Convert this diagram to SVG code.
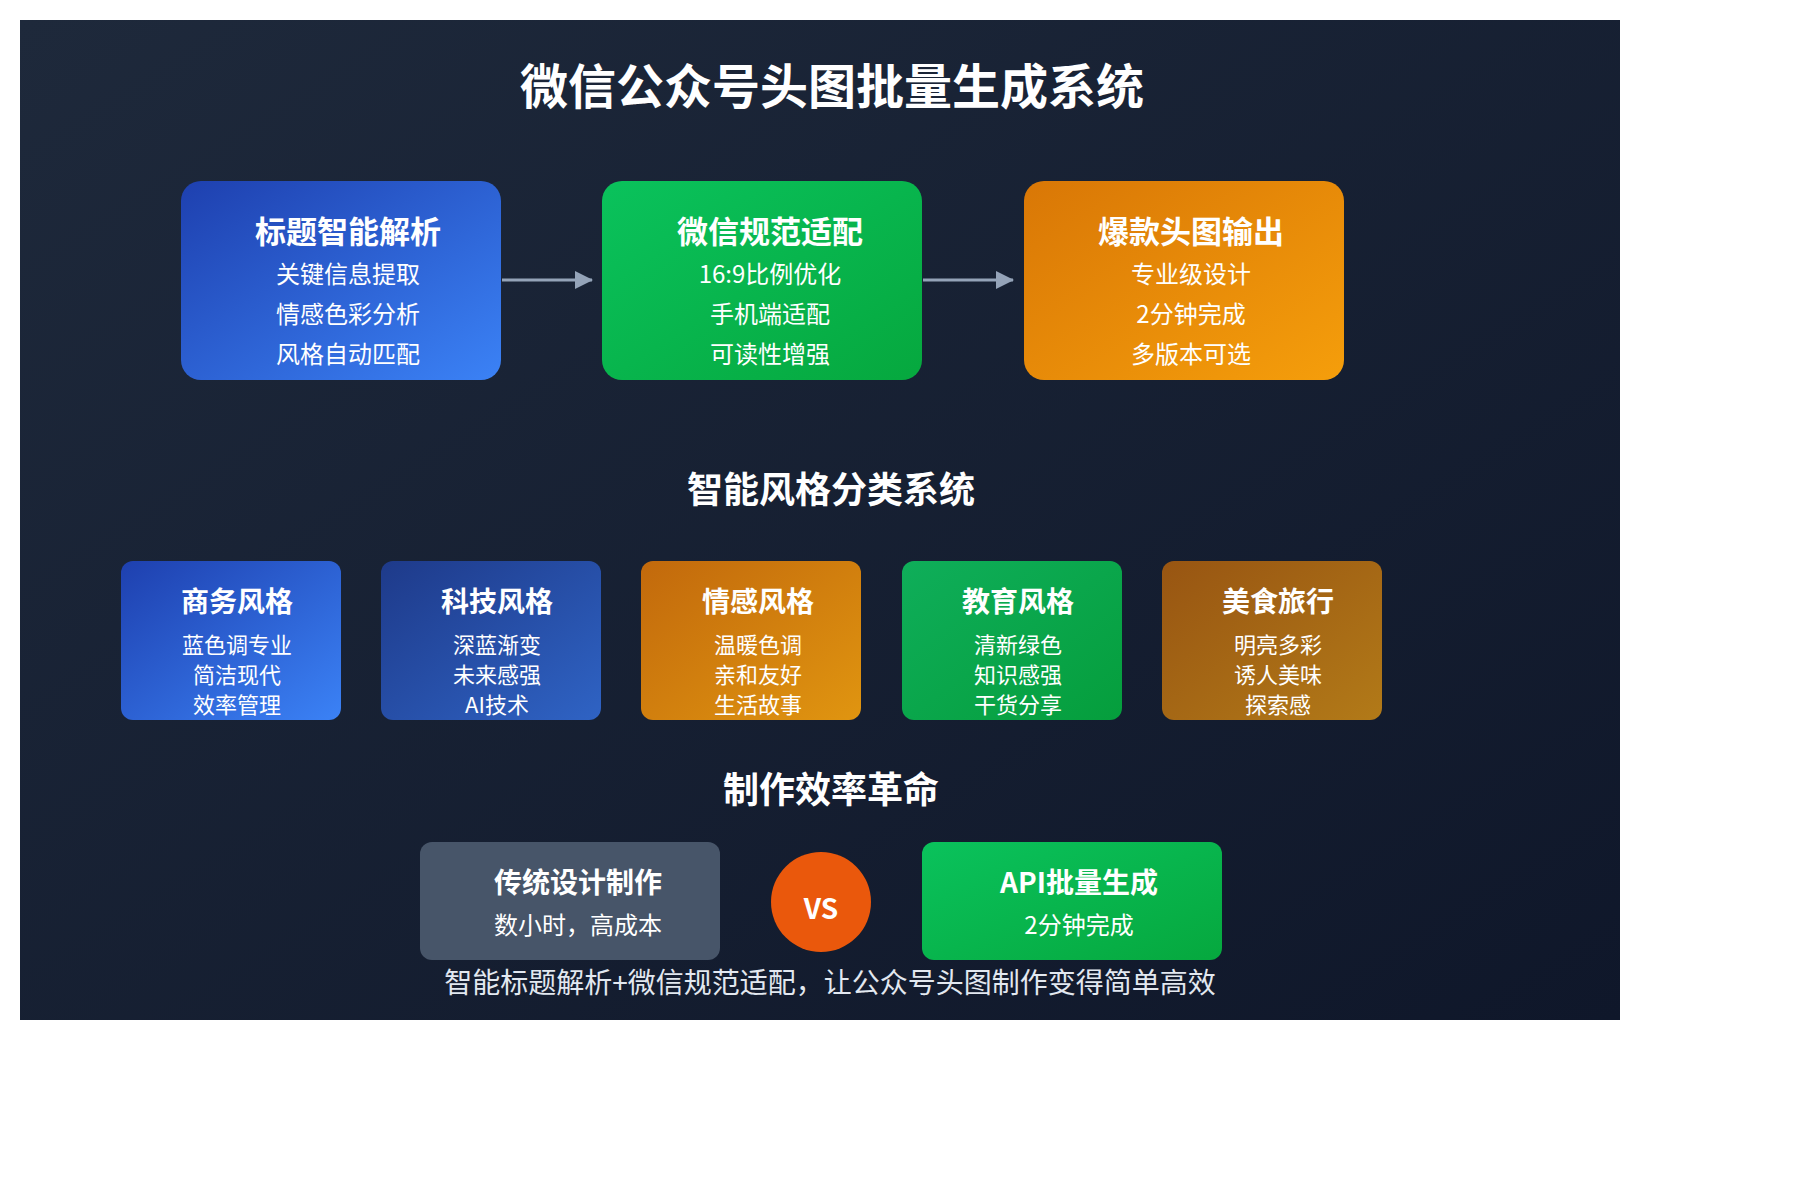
<svg xmlns="http://www.w3.org/2000/svg" width="1800" height="1180" viewBox="0 0 1800 1180">
<defs>
<linearGradient id="bg" x1="0" y1="0" x2="1" y2="1"><stop offset="0" stop-color="#1e293b"/><stop offset="1" stop-color="#0f172a"/></linearGradient>
<linearGradient id="gBlue" x1="0" y1="0" x2="1" y2="1"><stop offset="0" stop-color="#1e40af"/><stop offset="1" stop-color="#3b82f6"/></linearGradient>
<linearGradient id="gTech" x1="0" y1="0" x2="1" y2="1"><stop offset="0" stop-color="#1e3a8a"/><stop offset="1" stop-color="#2f63c4"/></linearGradient>
<linearGradient id="gGreen" x1="0" y1="0" x2="1" y2="1"><stop offset="0" stop-color="#0ac25c"/><stop offset="1" stop-color="#06a83e"/></linearGradient>
<linearGradient id="gEdu" x1="0" y1="0" x2="1" y2="1"><stop offset="0" stop-color="#0fae5a"/><stop offset="1" stop-color="#059e3c"/></linearGradient>
<linearGradient id="gOrange" x1="0" y1="0" x2="1" y2="1"><stop offset="0" stop-color="#d97706"/><stop offset="1" stop-color="#f59e0b"/></linearGradient>
<linearGradient id="gEmo" x1="0" y1="0" x2="1" y2="1"><stop offset="0" stop-color="#c2690c"/><stop offset="1" stop-color="#e09510"/></linearGradient>
<linearGradient id="gFood" x1="0" y1="0" x2="1" y2="1"><stop offset="0" stop-color="#985512"/><stop offset="1" stop-color="#b27a18"/></linearGradient>
<marker id="arr" markerWidth="18" markerHeight="18" refX="17" refY="9" orient="auto" markerUnits="userSpaceOnUse" viewBox="0 0 18 18"><path d="M0,0 L18,9 L0,18 z" fill="#94a3b8"/></marker>
<style>
text{font-family:"Noto Sans CJK SC","Liberation Sans",sans-serif;fill:#fff;text-anchor:middle;dominant-baseline:central}
.h1{font-size:48px;font-weight:700}
.h2{font-size:36px;font-weight:700}
.bt{font-size:31px;font-weight:700}
.bs{font-size:24px}
.st{font-size:28px;font-weight:700}
.ss{font-size:22px}
.ct{font-size:28px;font-weight:700}
.cs{font-size:24px}
.ft{font-size:28px;fill:#e2e8f0}
</style>
</defs>
<rect x="20" y="20" width="1600" height="1000" fill="url(#bg)"/>
<text class="h1" x="832" y="83">微信公众号头图批量生成系统</text>
<g id="connectors" stroke="#94a3b8" stroke-width="3" fill="none">
<line x1="502" y1="280" x2="592" y2="280" marker-end="url(#arr)"/>
<line x1="923" y1="280" x2="1013" y2="280" marker-end="url(#arr)"/>
</g>
<g id="n1"><rect x="181" y="181" width="320" height="199" rx="20" fill="url(#gBlue)"/>
<text class="bt" x="348" y="229">标题智能解析</text><text class="bs" x="348" y="272">关键信息提取</text><text class="bs" x="348" y="312">情感色彩分析</text><text class="bs" x="348" y="352">风格自动匹配</text></g>
<g id="n2"><rect x="602" y="181" width="320" height="199" rx="20" fill="url(#gGreen)"/>
<text class="bt" x="770" y="229">微信规范适配</text><text class="bs" x="770" y="272">16:9比例优化</text><text class="bs" x="770" y="312">手机端适配</text><text class="bs" x="770" y="352">可读性增强</text></g>
<g id="n3"><rect x="1024" y="181" width="320" height="199" rx="20" fill="url(#gOrange)"/>
<text class="bt" x="1191" y="229">爆款头图输出</text><text class="bs" x="1191" y="272">专业级设计</text><text class="bs" x="1191" y="312">2分钟完成</text><text class="bs" x="1191" y="352">多版本可选</text></g>
<text class="h2" x="831" y="487">智能风格分类系统</text>
<g id="s1"><rect x="121" y="561" width="220" height="159" rx="12" fill="url(#gBlue)"/>
<text class="st" x="237" y="600">商务风格</text><text class="ss" x="237" y="643">蓝色调专业</text><text class="ss" x="237" y="673">简洁现代</text><text class="ss" x="237" y="703">效率管理</text></g>
<g id="s2"><rect x="381" y="561" width="220" height="159" rx="12" fill="url(#gTech)"/>
<text class="st" x="497" y="600">科技风格</text><text class="ss" x="497" y="643">深蓝渐变</text><text class="ss" x="497" y="673">未来感强</text><text class="ss" x="497" y="703">AI技术</text></g>
<g id="s3"><rect x="641" y="561" width="220" height="159" rx="12" fill="url(#gEmo)"/>
<text class="st" x="758" y="600">情感风格</text><text class="ss" x="758" y="643">温暖色调</text><text class="ss" x="758" y="673">亲和友好</text><text class="ss" x="758" y="703">生活故事</text></g>
<g id="s4"><rect x="902" y="561" width="220" height="159" rx="12" fill="url(#gEdu)"/>
<text class="st" x="1018" y="600">教育风格</text><text class="ss" x="1018" y="643">清新绿色</text><text class="ss" x="1018" y="673">知识感强</text><text class="ss" x="1018" y="703">干货分享</text></g>
<g id="s5"><rect x="1162" y="561" width="220" height="159" rx="12" fill="url(#gFood)"/>
<text class="st" x="1278" y="600">美食旅行</text><text class="ss" x="1278" y="643">明亮多彩</text><text class="ss" x="1278" y="673">诱人美味</text><text class="ss" x="1278" y="703">探索感</text></g>
<text class="h2" x="831" y="787">制作效率革命</text>
<g id="c1"><rect x="420" y="842" width="300" height="118" rx="12" fill="#475569"/>
<text class="ct" x="578" y="881">传统设计制作</text><text class="cs" x="578" y="923">数小时，高成本</text></g>
<g id="vs"><circle cx="821" cy="902" r="50" fill="#ea580c"/><text class="ct" x="821" y="907">VS</text></g>
<g id="c2"><rect x="922" y="842" width="300" height="118" rx="12" fill="url(#gGreen)"/>
<text class="ct" x="1079" y="881">API批量生成</text><text class="cs" x="1079" y="923">2分钟完成</text></g>
<text class="ft" x="830" y="981">智能标题解析+微信规范适配，让公众号头图制作变得简单高效</text>
</svg>
